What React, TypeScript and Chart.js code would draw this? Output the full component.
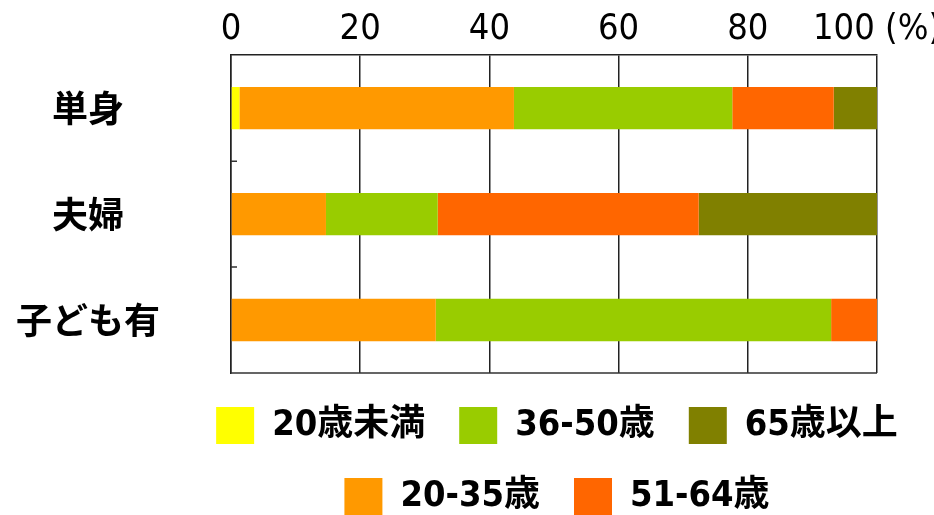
import React, { useEffect, useRef } from "react";
import { Chart, registerables } from "chart.js";

Chart.register(...registerables);

const categories = ["単身", "夫婦", "子ども有"];
const seriesNames = ["20歳未満", "20-35歳", "36-50歳", "51-64歳", "65歳以上"];
const under20 = [1.3, 0, 0];
const age20to35 = [42.5, 14.7, 31.7];
const age36to50 = [33.8, 17.3, 61.2];
const age51to64 = [15.7, 40.4, 7.1];
const age65plus = [6.7, 27.6, 0];
const seriesColors = ["#FFFF00", "#FF9900", "#99CC00", "#FF6600", "#808000"];
const legendOrder = ["20歳未満", "36-50歳", "65歳以上", "20-35歳", "51-64歳"];
const xTickLabels = ["0", "20", "40", "60", "80", "100 (%)"];

const NARROW = "'DejaVu Sans Condensed', 'Noto Sans CJK JP', sans-serif";
const CJK = "'Noto Sans CJK JP', sans-serif";

const framePlugin = {
  id: "frameAndTicks",
  afterDraw(chart: any) {
    const { ctx, chartArea } = chart;
    const y = chart.scales.y;
    ctx.save();
    ctx.strokeStyle = "#333";
    ctx.lineWidth = 1.5;
    ctx.beginPath();
    ctx.moveTo(chartArea.left, chartArea.bottom);
    ctx.lineTo(chartArea.right, chartArea.bottom);
    for (let i = 0; i < categories.length - 1; i++) {
      const p = (y.getPixelForValue(i) + y.getPixelForValue(i + 1)) / 2;
      ctx.moveTo(chartArea.left, p);
      ctx.lineTo(chartArea.left + 6, p);
    }
    ctx.stroke();
    ctx.restore();
  },
};

export default function App() {
  const ref = useRef<HTMLCanvasElement>(null);
  useEffect(() => {
    const seriesData = [under20, age20to35, age36to50, age51to64, age65plus];
    const chart = new Chart(ref.current as HTMLCanvasElement, {
      type: "bar",
      data: {
        labels: categories,
        datasets: seriesNames.map((name, i) => ({
          label: name,
          data: seriesData[i],
          backgroundColor: seriesColors[i],
          borderWidth: 0,
          barPercentage: 1,
          categoryPercentage: 0.4,
        })),
      },
      options: {
        indexAxis: "y",
        responsive: false,
        animation: false,
        devicePixelRatio: 1,
        layout: { padding: { left: 180, right: 0, top: 4, bottom: -10 } },
        scales: {
          x: {
            position: "top",
            stacked: true,
            min: 0,
            max: 100,
            afterFit: (scale: any) => {
              scale.paddingLeft = 0;
              scale.paddingRight = 57;
            },
            ticks: {
              stepSize: 20,
              padding: 4,
              maxRotation: 0,
              minRotation: 0,
              autoSkip: false,
              color: "#000",
              font: { family: NARROW, size: 36 },
              callback: (_v: any, idx: number) => xTickLabels[idx],
            },
            grid: { color: "#222", lineWidth: 1.5, drawTicks: false },
            border: { color: "#222", width: 1.5 },
          },
          y: {
            stacked: true,
            afterFit: (scale: any) => {
              scale.width = 51;
            },
            ticks: {
              mirror: true,
              crossAlign: "center",
              padding: -215,
              color: "#000",
              font: { family: CJK, size: 36, weight: "bold" },
            },
            grid: { display: false, drawTicks: false },
            border: { color: "#222", width: 1.5 },
          },
        },
        plugins: {
          tooltip: { enabled: false },
          legend: {
            position: "bottom",
            fullSize: true,
            labels: {
              color: "#000",
              font: { family: NARROW, size: 36, weight: "bold" },
              boxWidth: 38,
              boxHeight: 37,
              padding: 34,
              sort: (a: any, b: any) =>
                legendOrder.indexOf(a.text) - legendOrder.indexOf(b.text),
            },
          },
        },
      },
      plugins: [framePlugin],
    } as any);
    return () => chart.destroy();
  }, []);
  return (
    <div style={{ position: "absolute", left: 0, top: 0, width: 934, height: 515, background: "#fff" }}>
      <canvas ref={ref} width={934} height={515} style={{ display: "block" }} />
    </div>
  );
}
